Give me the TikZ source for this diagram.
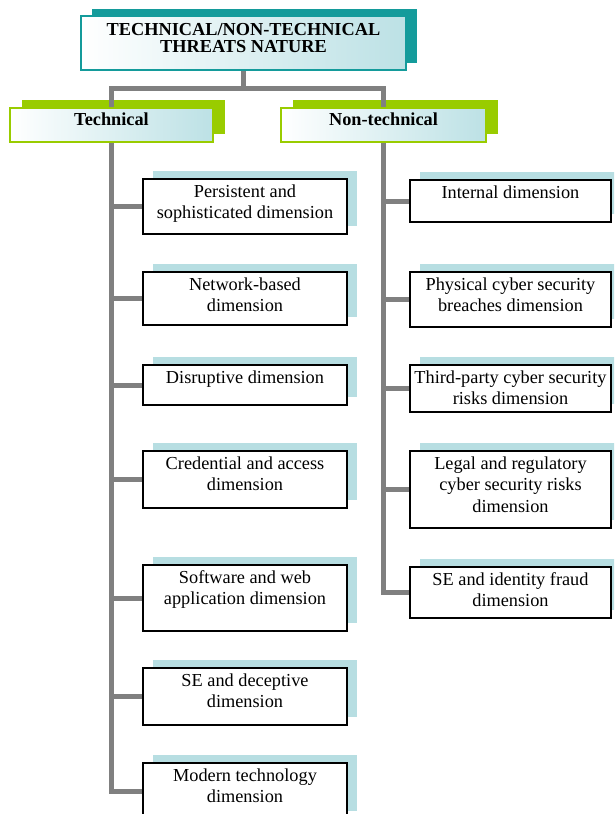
\documentclass[tikz,border=0pt]{standalone}
\usepackage{fontspec}
\setmainfont{Liberation Serif}
\usetikzlibrary{shadows}
\definecolor{tealc}{RGB}{20,155,155}
\definecolor{greenc}{RGB}{153,204,0}
\definecolor{leafshadow}{RGB}{183,222,226}
\definecolor{gradblue}{RGB}{188,225,229}
\definecolor{linegray}{RGB}{128,128,128}
\newcommand\cell[4]{\parbox[c][#2pt][t]{#1pt}{\centering\rule{0pt}{#3pt}#4}}
\tikzset{
  conn/.style={draw=linegray, line width=5pt},
  leaf/.style={draw=black, line width=1.5pt, fill=white, inner sep=0pt,
    font=\fontsize{18.3}{21.3}\selectfont,
    general shadow={fill=leafshadow, shadow xshift=10pt, shadow yshift=8pt}},
  rootbox/.style={draw=tealc, line width=2pt, left color=white, right color=gradblue, inner sep=0pt,
    font=\fontsize{18.3}{17.5}\selectfont\bfseries,
    general shadow={fill=tealc, shadow xshift=11pt, shadow yshift=7pt}},
  catbox/.style={draw=greenc, line width=2pt, left color=white, right color=gradblue, inner sep=0pt,
    font=\fontsize{18.3}{21.3}\selectfont\bfseries,
    general shadow={fill=greenc, shadow xshift=12pt, shadow yshift=8pt}}
}
\begin{document}
\begin{tikzpicture}[x=1pt,y=-1pt]
\useasboundingbox (0,0) rectangle (614,814);
\clip (0,0) rectangle (614,814);
% root and categories
\node[rootbox] (root) at (243.5,43) {\cell{325}{54}{19}{TECHNICAL/NON-TECHNICAL\\THREATS NATURE}};
\node[catbox] (tech) at (111.5,125) {\cell{203}{34}{17}{Technical}};
\node[catbox] (nontech) at (383.5,125) {\cell{205}{34}{17}{Non-technical}};
% technical leaves
\node[leaf] (l1) at (245,206.5) {\cell{204}{55}{18.5}{Persistent and\\sophisticated dimension}};
\node[leaf] (l2) at (245,298.5) {\cell{204}{53}{18.5}{Network-based\\dimension}};
\node[leaf] (l3) at (245,385) {\cell{204}{40}{18.5}{Disruptive dimension}};
\node[leaf] (l4) at (245,479.5) {\cell{204}{57}{18.5}{Credential and access\\dimension}};
\node[leaf] (l5) at (245,598) {\cell{204}{66}{18.5}{Software and web\\application dimension}};
\node[leaf] (l6) at (245,696.5) {\cell{204}{57}{18.5}{SE and deceptive\\dimension}};
\node[leaf] (l7) at (245,791) {\cell{204}{56}{18.5}{Modern technology\\dimension}};
% non-technical leaves
\node[leaf] (r1) at (510.5,201) {\cell{201}{42}{18.5}{Internal dimension}};
\node[leaf] (r2) at (510.5,299.5) {\cell{201}{55}{18.5}{Physical cyber security\\breaches dimension}};
\node[leaf] (r3) at (510.5,388.5) {\cell{201}{47}{18.5}{Third-party cyber security\\risks dimension}};
\node[leaf] (r4) at (510.5,489.5) {\cell{201}{77}{18.5}{Legal and regulatory\\cyber security risks\\dimension}};
\node[leaf] (r5) at (510.5,592.5) {\cell{201}{51}{18.5}{SE and identity fraud\\dimension}};
% connectors
\draw[conn] (root.south) -- ++(0,19);
\draw[conn] (tech.north) -- ++(0,-19) -| (nontech.north);
\foreach \n in {l1,l2,l3,l4,l5,l6,l7} \draw[conn] (tech.south) |- (\n.west);
\foreach \n in {r1,r2,r3,r4,r5} \draw[conn] (nontech.south) |- (\n.west);
\end{tikzpicture}
\end{document}
